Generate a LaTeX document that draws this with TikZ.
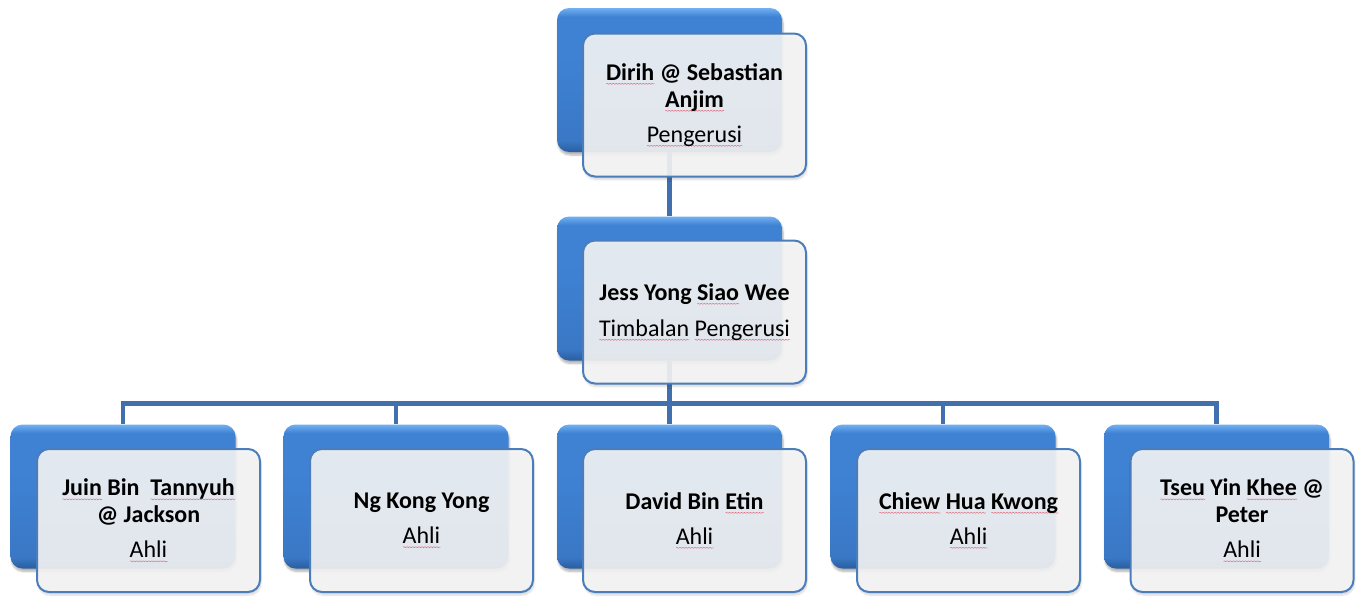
\documentclass[tikz,border=0pt]{standalone}
\usepackage{fontspec}
\setmainfont{Carlito}
\usetikzlibrary{shadows.blur,decorations.pathmorphing}
\definecolor{linec}{HTML}{4270AE}
\definecolor{bluehi}{HTML}{72B0F2}
\definecolor{bluemid}{HTML}{3F82D4}
\definecolor{bluemid2}{HTML}{3A78C6}
\definecolor{bluebot}{HTML}{2A5E9F}
\definecolor{frontedge}{HTML}{4A7DBA}
\definecolor{frontfill}{HTML}{F6F6F6}
\definecolor{squig}{HTML}{E07080}
\pgfdeclareverticalshading{backsh}{100bp}{color(0bp)=(bluebot); color(25bp)=(bluebot); color(29bp)=(bluemid2); color(60bp)=(bluemid); color(72bp)=(bluemid); color(75bp)=(bluehi); color(100bp)=(bluehi)}
\newsavebox\sqwbox
\newcommand\sqw[1]{\sbox\sqwbox{#1}\rlap{\tikz[baseline=0pt]\path[draw=squig,line width=0.5pt,sharp corners,decorate,decoration={snake,amplitude=0.5pt,segment length=3pt}] (0pt,-3.5pt) -- (\wd\sqwbox,-3.5pt);}\usebox\sqwbox}
\begin{document}
\begin{tikzpicture}[x=1pt,y=-1pt,
  backbox/.style={rounded corners=12pt, shading=backsh, draw=none,
    minimum width=225pt, minimum height=144pt, inner sep=0pt,
    blur shadow={shadow xshift=1pt, shadow yshift=-3pt, shadow opacity=30, shadow blur steps=6}},
  frontbox/.style={rounded corners=12pt, draw=frontedge, line width=2pt, fill=frontfill,
    fill opacity=0.9, text opacity=1, minimum width=223pt, minimum height=143pt,
    align=center, inner sep=2pt, font=\fontsize{24}{27}\selectfont,
    blur shadow={shadow xshift=1pt, shadow yshift=-3pt, shadow opacity=18, shadow blur steps=6}},
  conn/.style={draw=linec, line width=4.5pt},
]
\useasboundingbox (0,0) rectangle (1356,597);
% back boxes
\node[backbox] (b1) at (669.5,80) {};
\node[backbox] (b2) at (669.5,288.5) {};
\node[backbox] (c1) at (123,496.5) {};
\node[backbox] (c2) at (396,496.5) {};
\node[backbox] (c3) at (669.5,496.5) {};
\node[backbox] (c4) at (943,496.5) {};
\node[backbox] (c5) at (1216.5,496.5) {};
% connectors
\coordinate (bus) at (669.5,403.5);
\draw[conn] (b1.south) -- (b2.north);
\foreach \c in {c1,c2,c3,c4,c5}{
  \draw[conn] (b2.south) -- (b2.south |- bus) -| (\c.north);
}
% front boxes
\node[frontbox] (f1) at (694.5,105) {\textbf{\sqw{Dirih} @ Sebastian}\\ \textbf{\sqw{Anjim}}\\[8pt] \sqw{Pengerusi}};
\node[frontbox] (f2) at (694.5,312) {\textbf{Jess Yong \sqw{Siao} Wee}\\[9pt] \sqw{Timbalan} \sqw{Pengerusi}};
\node[frontbox] (g1) at (148.5,520.5) {\textbf{\sqw{Juin} Bin~~\sqw{Tannyuh}}\\ \textbf{@ Jackson}\\[8pt] \sqw{Ahli}};
\node[frontbox] (g2) at (421.5,520.5) {\textbf{Ng Kong Yong}\\[8pt] \sqw{Ahli}};
\node[frontbox] (g3) at (694.5,520.5) {\textbf{David Bin \sqw{Etin}}\\[8pt] \sqw{Ahli}};
\node[frontbox] (g4) at (968.5,520.5) {\textbf{\sqw{Chiew} \sqw{Hua} \sqw{Kwong}}\\[8pt] \sqw{Ahli}};
\node[frontbox] (g5) at (1242,520.5) {\textbf{\sqw{Tseu} Yin \sqw{Khee} @}\\ \textbf{Peter}\\[8pt] \sqw{Ahli}};
\end{tikzpicture}
\end{document}
